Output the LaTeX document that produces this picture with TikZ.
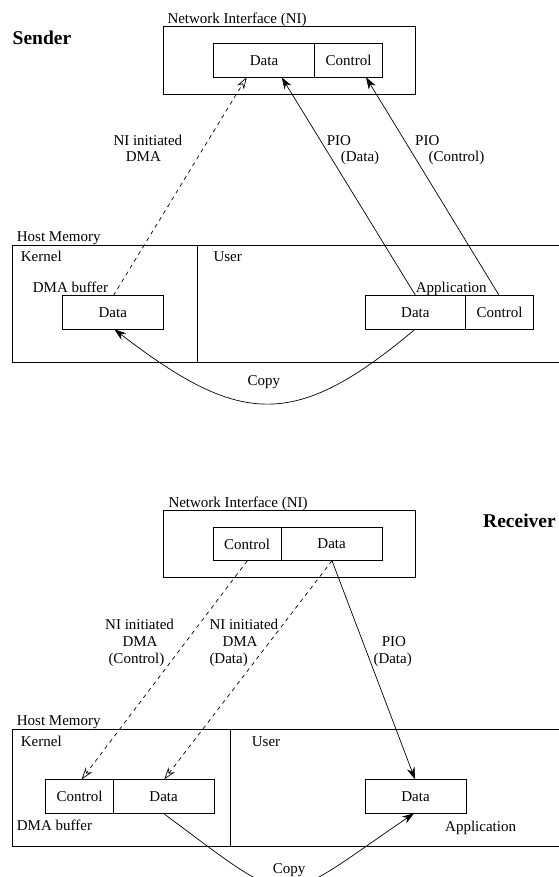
\documentclass[tikz,border=0pt]{standalone}
\usepackage{fontspec}
\setmainfont{Liberation Serif}
\usetikzlibrary{arrows.meta,calc}
\begin{document}
\begin{tikzpicture}[x=1pt,y=-1pt,
  every node/.style={font=\fontsize{15}{16}\selectfont},
  box/.style={draw, line width=0.8pt, anchor=north west, inner sep=0pt, outer sep=0pt},
  lbl/.style={anchor=west, inner sep=0pt, text height=10pt, text depth=0pt},
  title/.style={anchor=west, inner sep=0pt, font=\fontsize{19.5}{20}\selectfont\bfseries},
  conn/.style={line width=0.7pt},
  pio/.style={conn, -{Stealth[length=12pt,width=8pt]}},
  dma/.style={conn, dash pattern=on 4pt off 4pt, -{Stealth[open,length=12pt,width=8pt]}},
  copyarr/.style={conn, -{Stealth[length=12pt,width=8pt]}}
]
\useasboundingbox (0,0) rectangle (558,877);
\fill[white] (0,0) rectangle (558,877);

% ================= Sender =================
\node[title] (sender) at (12.5,38.3) {Sender};
\node[lbl] (sNIlbl) at (167.3,19) {Network Interface (NI)};
\node[box, minimum width=251.7pt, minimum height=67.3pt] (sNI) at (163.3,26.7) {};
\node[box, minimum width=101.4pt, minimum height=34pt] (sNIdata) at (213.3,43.3) {Data};
\node[box, minimum width=67.6pt, minimum height=34pt] (sNIctrl) at (314.7,43.3) {Control};

\node[lbl] (sHostlbl) at (16.7,236) {Host Memory};
\node[box, minimum width=570pt, minimum height=117.7pt] (sHost) at (12.3,245) {};
\coordinate (sdivT) at (197.3,245);
\coordinate (sdivB) at (197.3,362.7);
\draw[line width=0.8pt] (sdivT) -- (sdivB);
\node[lbl] (sKlbl) at (20.7,256.7) {Kernel};
\node[lbl] (sUlbl) at (213.3,256.7) {User};
\node[lbl] (sDMAbuf) at (32.7,287.3) {DMA buffer};
\node[lbl] (sApp) at (415.7,287.3) {Application};
\node[box, minimum width=101pt, minimum height=33.6pt] (sKdata) at (62.3,295.7) {Data};
\node[box, minimum width=100.7pt, minimum height=33.6pt] (sAdata) at (365,295.7) {Data};
\node[box, minimum width=67.6pt, minimum height=33.6pt] (sActrl) at (465.7,295.7) {Control};

\draw[dma] ([xshift=51pt]sKdata.north west) -- ([xshift=33.4pt]sNIdata.south west);
\draw[pio] ([xshift=50.7pt]sAdata.north west) -- ([xshift=68.4pt]sNIdata.south west);
\draw[pio] ([xshift=33.6pt]sActrl.north west) -- ([xshift=51.3pt]sNIctrl.south west);
\draw[copyarr] ([xshift=50pt]sAdata.south west) .. controls +(-121,102) and +(125,96) .. ([xshift=52pt]sKdata.south west);

\node[lbl] (sDMA1) at (113.3,140.7) {NI initiated};
\node[lbl] (sDMA2) at (125.7,156.7) {DMA};
\node[lbl] (sPIO1) at (326.7,140.7) {PIO};
\node[lbl] (sPIO2) at (340.7,156.7) {(Data)};
\node[lbl] (sPIO3) at (415,140.7) {PIO};
\node[lbl] (sPIO4) at (428.3,156.7) {(Control)};
\node[lbl] (sCopy) at (247.3,380) {Copy};

% ================= Receiver =================
\node[title] (receiver) at (483,521) {Receiver};
\node[lbl] (rNIlbl) at (168.3,502.7) {Network Interface (NI)};
\node[box, minimum width=251.7pt, minimum height=66.6pt] (rNI) at (163.3,510.7) {};
\node[box, minimum width=67.7pt, minimum height=33.4pt] (rNIctrl) at (213.3,527.3) {Control};
\node[box, minimum width=101.3pt, minimum height=33.4pt] (rNIdata) at (281,527.3) {Data};

\node[lbl] (rHostlbl) at (16.7,720.7) {Host Memory};
\node[box, minimum width=570pt, minimum height=117.4pt] (rHost) at (12.3,729.3) {};
\coordinate (rdivT) at (230.7,729.3);
\coordinate (rdivB) at (230.7,846.7);
\draw[line width=0.8pt] (rdivT) -- (rdivB);
\node[lbl] (rKlbl) at (20.7,741.7) {Kernel};
\node[lbl] (rUlbl) at (251.7,741.7) {User};
\node[box, minimum width=67.6pt, minimum height=34pt] (rKctrl) at (45.7,779.3) {Control};
\node[box, minimum width=100.7pt, minimum height=34pt] (rKdata) at (113.3,779.3) {Data};
\node[box, minimum width=101pt, minimum height=34pt] (rAdata) at (365,779.3) {Data};
\node[lbl] (rDMAbuf) at (16.7,825.7) {DMA buffer};
\node[lbl] (rApp) at (445,826) {Application};

\draw[dma] ([xshift=34pt]rNIctrl.south west) -- ([xshift=36pt]rKctrl.north west);
\draw[dma] ([xshift=51pt]rNIdata.south west) -- ([xshift=51pt]rKdata.north west);
\draw[pio] ([xshift=51pt]rNIdata.south west) -- ([xshift=50pt]rAdata.north west);
\draw[copyarr] ([xshift=50pt]rKdata.south west) .. controls +(135,100) and +(-140,95) .. ([xshift=49pt]rAdata.south west);

\node[lbl] (rDMA1) at (105,624) {NI initiated};
\node[lbl] (rDMA2) at (122.3,641) {DMA};
\node[lbl] (rDMA3) at (108.3,658.3) {(Control)};
\node[lbl] (rDMA4) at (209.3,624) {NI initiated};
\node[lbl] (rDMA5) at (222.3,641) {DMA};
\node[lbl] (rDMA6) at (209.3,658.3) {(Data)};
\node[lbl] (rPIO1) at (381.7,641) {PIO};
\node[lbl] (rPIO2) at (373.3,658.3) {(Data)};
\node[lbl] (rCopy) at (272.7,868.3) {Copy};
\end{tikzpicture}
\end{document}
